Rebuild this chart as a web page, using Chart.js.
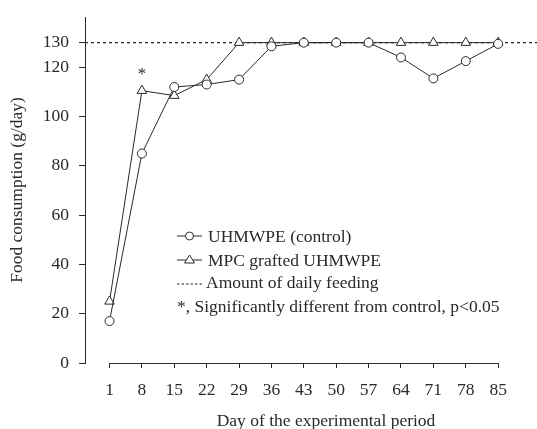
<!DOCTYPE html>
<html>
<head>
<meta charset="utf-8">
<script src="https://cdn.jsdelivr.net/npm/chart.js@4.4.1/dist/chart.umd.min.js"></script>
<style>
  html, body { margin: 0; padding: 0; background: #fff; }
  #wrap { width: 537px; height: 429px; }
</style>
</head>
<body>
<div id="wrap"><canvas id="foodChart"></canvas></div>
<script>
const days = [1, 8, 15, 22, 29, 36, 43, 50, 57, 64, 71, 78, 85];
const control = [17, 85, 112, 113, 115, 128.5, 130, 130, 130, 124, 115.5, 122.5, 129.5];
const mpcGrafted = [25, 110.5, 108.5, 115, 130, 130, 130, 130, 130, 130, 130, 130, 130];
const yTicks = [0, 20, 40, 60, 80, 100, 120, 130];
const dailyFeeding = 130;
const sigDays = [8];
const sigLevel = 117;

const xMin = -4.3;
const xMax = 93.4;
const yMax = 140.4;

const FONT = "'Liberation Serif', 'Times New Roman', serif";
const INK = "#2a2a2a";

function pts(values) {
    return days.map((d, i) => ({ x: d, y: values[i] }));
}

// legend, asterisk, x-axis line and x title
const extras = {
    id: "extras",
    afterDatasetsDraw(chart) {
        const { ctx, scales: { x, y } } = chart;
        ctx.save();
        ctx.strokeStyle = INK;
        ctx.fillStyle = INK;
        ctx.lineWidth = 1;

        // x axis line only between first and last day
        const yb = y.getPixelForValue(0);
        ctx.beginPath();
        ctx.moveTo(x.getPixelForValue(days[0]), yb + 0.5);
        ctx.lineTo(x.getPixelForValue(days[days.length - 1]), yb + 0.5);
        ctx.stroke();

        ctx.font = "17px " + FONT;
        ctx.textAlign = "center";
        ctx.textBaseline = "middle";
        sigDays.forEach(d => {
            ctx.fillText("*", x.getPixelForValue(d), y.getPixelForValue(sigLevel));
        });

        // x title
        ctx.font = "17.5px " + FONT;
        ctx.fillText("Day of the experimental period", 326, 421);

        // legend
        const lx = 177;
        const rows = [236, 260, 284, 307];
        ctx.textAlign = "left";
        ctx.font = "17.5px " + FONT;

        ctx.beginPath();
        ctx.moveTo(lx, rows[0]); ctx.lineTo(lx + 25, rows[0]);
        ctx.stroke();
        ctx.beginPath();
        ctx.fillStyle = "#fff";
        ctx.arc(lx + 12.5, rows[0], 4, 0, Math.PI * 2);
        ctx.fill(); ctx.stroke();
        ctx.fillStyle = INK;
        ctx.fillText("UHMWPE (control)", lx + 31, rows[0] + 1);

        ctx.beginPath();
        ctx.moveTo(lx, rows[1]); ctx.lineTo(lx + 25, rows[1]);
        ctx.stroke();
        ctx.beginPath();
        ctx.fillStyle = "#fff";
        ctx.moveTo(lx + 12.5, rows[1] - 5);
        ctx.lineTo(lx + 17.5, rows[1] + 3);
        ctx.lineTo(lx + 7.5, rows[1] + 3);
        ctx.closePath();
        ctx.fill(); ctx.stroke();
        ctx.fillStyle = INK;
        ctx.fillText("MPC grafted UHMWPE", lx + 31, rows[1] + 1);

        ctx.setLineDash([2.5, 2]);
        ctx.beginPath();
        ctx.moveTo(lx, rows[2]); ctx.lineTo(lx + 25, rows[2]);
        ctx.stroke();
        ctx.setLineDash([]);
        ctx.fillText("Amount of daily feeding", lx + 29, rows[2] - 1);

        ctx.fillText("*, Significantly different from control, p<0.05", lx, rows[3]);
        ctx.restore();
    }
};

new Chart(document.getElementById("foodChart"), {
    type: "line",
    data: {
        datasets: [
            {
                label: "UHMWPE (control)",
                data: pts(control),
                borderColor: INK,
                borderWidth: 1,
                pointStyle: "circle",
                pointRadius: 4.5,
                pointBackgroundColor: "#fff",
                pointBorderColor: INK,
                pointBorderWidth: 1,
                tension: 0,
                clip: false,
                order: 1
            },
            {
                label: "MPC grafted UHMWPE",
                data: pts(mpcGrafted),
                borderColor: INK,
                borderWidth: 1,
                pointStyle: "triangle",
                pointRadius: 5.5,
                pointBackgroundColor: "#fff",
                pointBorderColor: INK,
                pointBorderWidth: 1,
                tension: 0,
                clip: false,
                order: 2
            },
            {
                label: "Amount of daily feeding",
                data: [{ x: xMin, y: dailyFeeding }, { x: xMax, y: dailyFeeding }],
                borderColor: INK,
                borderWidth: 1.3,
                borderDash: [3, 3],
                pointRadius: 0,
                order: 3
            }
        ]
    },
    options: {
        responsive: true,
        maintainAspectRatio: false,
        animation: false,
        layout: { autoPadding: false, padding: { top: 17, right: 0, left: 0, bottom: 0 } },
        plugins: {
            legend: { display: false },
            tooltip: { enabled: false }
        },
        scales: {
            x: {
                type: "linear",
                min: xMin,
                max: xMax,
                afterBuildTicks: s => { s.ticks = days.map(v => ({ value: v })); },
                afterFit: s => { s.height = 66; s.paddingLeft = 0; s.paddingRight = 0; },
                border: { display: false },
                grid: { drawOnChartArea: false, drawTicks: true, tickLength: 5, color: INK },
                ticks: {
                    autoSkip: false,
                    maxRotation: 0,
                    padding: 12,
                    color: INK,
                    font: { family: FONT, size: 17.5 }
                }
            },
            y: {
                min: 0,
                max: yMax,
                afterBuildTicks: s => { s.ticks = yTicks.map(v => ({ value: v })); },
                afterFit: s => { s.width = 85; s.paddingTop = 0; s.paddingBottom = 0; },
                border: { display: true, color: INK, width: 1 },
                grid: { drawOnChartArea: false, drawTicks: true, tickLength: 6, color: INK },
                ticks: {
                    autoSkip: false,
                    padding: 10,
                    color: INK,
                    font: { family: FONT, size: 17.5 }
                },
                title: {
                    display: true,
                    text: "Food consumption (g/day)",
                    color: INK,
                    font: { family: FONT, size: 17.5, lineHeight: 1 },
                    padding: { top: 9, bottom: 0 }
                }
            }
        }
    },
    plugins: [extras]
});
</script>
</body>
</html>
